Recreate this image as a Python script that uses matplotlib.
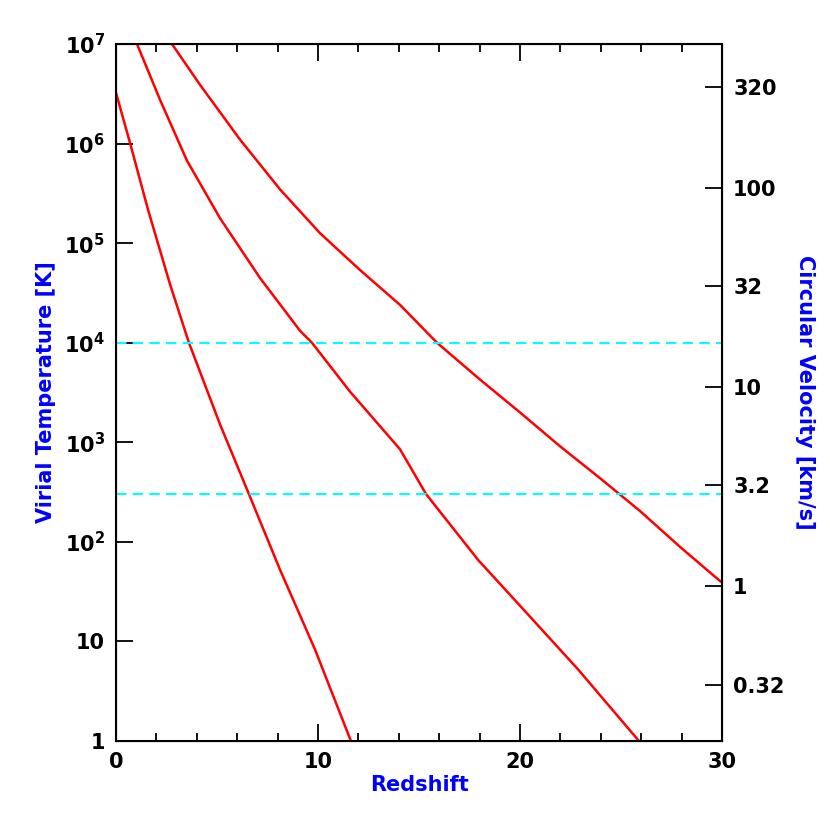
import matplotlib
matplotlib.use("Agg")
import matplotlib.pyplot as plt
import numpy as np

# values (redshift, log10 T)
z1 = [0.0, 0.69, 1.58, 2.67, 3.61, 5.15, 6.58, 8.12, 9.85, 11.63]
logT1 = [6.51, 6.01, 5.34, 4.59, 4.00, 3.18, 2.48, 1.72, 0.92, 0.0]
z2 = [1.04, 2.18, 3.51, 5.15, 7.13, 9.11, 9.70, 11.58, 14.06, 15.35, 17.92, 20.40, 22.87, 25.89]
logT2 = [7.0, 6.44, 5.83, 5.25, 4.65, 4.12, 4.0, 3.51, 2.93, 2.48, 1.82, 1.27, 0.72, 0.0]
z3 = [2.77, 4.16, 6.14, 8.12, 10.10, 12.08, 14.06, 15.89, 18.02, 20.0, 21.98, 23.96, 25.94, 27.92, 30.0]
logT3 = [7.0, 6.59, 6.04, 5.54, 5.10, 4.73, 4.38, 4.0, 3.63, 3.30, 2.96, 2.64, 2.31, 1.95, 1.59]
hlines = [1e4, 300]
vlabels = ["320", "100", "32", "10", "3.2", "1", "0.32"]
vvals = [320, 100, 32, 10, 3.2, 1, 0.32]
Tconv = 36.0

fig = plt.figure(figsize=(8.3, 8.3), dpi=100)
ax = fig.add_axes([116/830, 1-741/830, 606/830, 697/830])
for z, lt in [(z1, logT1), (z2, logT2), (z3, logT3)]:
    ax.plot(z, 10**np.array(lt), color="red", lw=1.8)
for h in hlines:
    ax.axhline(h, color="cyan", ls=(0, (5, 3)), lw=1.5)
ax.set_yscale("log")
ax.set_xlim(0, 30)
ax.set_ylim(1, 1e7)
ax.set_xticks([0, 10, 20, 30])
ax.set_xticks(np.arange(0, 31, 2), minor=True)
ax.set_yticks([10**i for i in range(8)])
ax.set_yticklabels(["1", "10", "$\\mathbf{10^2}$", "$\\mathbf{10^3}$", "$\\mathbf{10^4}$",
                    "$\\mathbf{10^5}$", "$\\mathbf{10^6}$", "$\\mathbf{10^7}$"])
ax.yaxis.set_minor_locator(matplotlib.ticker.NullLocator())
ax.tick_params(direction="in", length=12, width=1.3, labelsize=15, top=True, pad=8)
ax.tick_params(which="minor", direction="in", length=6, width=1.3, top=True)
ax.tick_params(axis="y", right=False)
for lab in ax.get_xticklabels() + ax.get_yticklabels():
    lab.set_fontweight("bold")
for s in ax.spines.values():
    s.set_linewidth(1.5)
ax.set_xlabel("Redshift", color="blue", fontsize=15, fontweight="bold", labelpad=2)
ax.set_ylabel("Virial Temperature [K]", color="blue", fontsize=15, fontweight="bold", labelpad=6)
ax2 = ax.twinx()
ax2.set_yscale("log")
ax2.set_ylim(1, 1e7)
ax2.set_yticks([Tconv*v**2 for v in vvals])
ax2.set_yticklabels(vlabels)
ax2.yaxis.set_minor_locator(matplotlib.ticker.NullLocator())
ax2.tick_params(direction="in", length=12, width=1.3, labelsize=15, pad=8)
for lab in ax2.get_yticklabels():
    lab.set_fontweight("bold")
ax2.set_ylabel("Circular Velocity [km/s]", color="blue", fontsize=15, fontweight="bold", rotation=270, labelpad=22)
fig.savefig("out.png", dpi=100)
